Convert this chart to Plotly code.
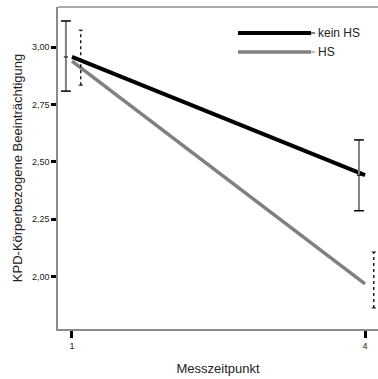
import plotly.graph_objects as go

# Data
times = [1, 4]
series = ["kein HS", "HS"]
mean_kein = [2.958, 2.442]
lower_kein = [2.809, 2.287]
upper_kein = [3.115, 2.596]
mean_hs = [2.940, 1.968]
lower_hs = [2.835, 1.863]
upper_hs = [3.075, 2.107]
ytick_vals = [2.00, 2.25, 2.50, 2.75, 3.00]
xtick_vals = [1, 4]

off_kein = -0.062
off_hs = 0.09

fig = go.Figure()

# main lines
fig.add_trace(go.Scatter(x=times, y=mean_kein, mode="lines",
                         line=dict(color="black", width=4), showlegend=False))
fig.add_trace(go.Scatter(x=times, y=mean_hs, mode="lines",
                         line=dict(color="#808080", width=3.5), showlegend=False))

# kein HS error bars (solid gray with black caps)
for t, lo, hi, m in zip(times, lower_kein, upper_kein, mean_kein):
    xx = t + off_kein
    fig.add_trace(go.Scatter(x=[xx, xx], y=[lo, hi], mode="lines",
                             line=dict(color="#808080", width=2), showlegend=False))
    fig.add_trace(go.Scatter(x=[xx, xx], y=[lo, hi], mode="markers",
                             marker=dict(symbol="line-ew", size=7, line=dict(color="black", width=1.5)),
                             showlegend=False))
    fig.add_trace(go.Scatter(x=[xx], y=[m], mode="markers",
                             marker=dict(symbol="line-ew", size=3, line=dict(color="black", width=1)),
                             showlegend=False))

# HS error bars (dotted black)
for t, lo, hi in zip(times, lower_hs, upper_hs):
    xx = t + off_hs
    fig.add_trace(go.Scatter(x=[xx, xx], y=[lo, hi], mode="lines",
                             line=dict(color="black", width=1.3, dash="dot"), showlegend=False))
    fig.add_trace(go.Scatter(x=[xx, xx], y=[lo, hi], mode="markers",
                             marker=dict(symbol="line-ew", size=3, line=dict(color="black", width=1)),
                             showlegend=False))

W, H = 378, 379
L, R, T, B = 58, 0, 7, 50
pw, ph = W - L - R, H - T - B

def px(x):
    return (x - L) / pw

def py(y):
    return (H - B - y) / ph

shapes = [
    dict(type="line", xref="paper", yref="paper", x0=0, x1=1, y0=1, y1=1,
         line=dict(color="#8c8c8c", width=1.5)),
    dict(type="line", xref="paper", yref="paper", x0=px(238), x1=px(311), y0=py(33), y1=py(33),
         line=dict(color="black", width=4)),
    dict(type="line", xref="paper", yref="paper", x0=px(311), x1=px(315), y0=py(33), y1=py(33),
         line=dict(color="black", width=1)),
    dict(type="line", xref="paper", yref="paper", x0=px(238), x1=px(311), y0=py(52), y1=py(52),
         line=dict(color="#808080", width=3.5)),
    dict(type="line", xref="paper", yref="paper", x0=px(311), x1=px(315), y0=py(52), y1=py(52),
         line=dict(color="#808080", width=1)),
]
annotations = [
    dict(text=series[0], xref="paper", yref="paper", x=px(316), y=py(33), xanchor="left",
         yanchor="middle", showarrow=False, font=dict(size=12, color="#222")),
    dict(text=series[1], xref="paper", yref="paper", x=px(316), y=py(52), xanchor="left",
         yanchor="middle", showarrow=False, font=dict(size=12, color="#222")),
]

fig.update_layout(
    width=W, height=H,
    margin=dict(l=L, r=R, t=T, b=B),
    paper_bgcolor="white", plot_bgcolor="white",
    separators=",.",
    font=dict(family="Liberation Sans, Arial, sans-serif", color="#222"),
    shapes=shapes, annotations=annotations,
    showlegend=False,
)
fig.update_xaxes(range=[0.857, 4.133], tickvals=xtick_vals, ticks="outside", ticklen=7,
                 tickwidth=3, tickcolor="black", showline=True, linecolor="#8c8c8c", linewidth=1.5,
                 showgrid=False, zeroline=False, tickfont=dict(size=9),
                 title=dict(text="Messzeitpunkt", font=dict(size=13), standoff=14))
fig.update_yaxes(range=[1.771, 3.176], tickvals=ytick_vals, tickformat=".2f", ticks="outside",
                 ticklen=5, tickwidth=3, tickcolor="black", showline=True, linecolor="#8c8c8c",
                 linewidth=1.5, showgrid=False, zeroline=False, tickfont=dict(size=9),
                 title=dict(text="KPD-Körperbezogene Beeinträchtigung", font=dict(size=13), standoff=6))

fig.write_html("out.html")
